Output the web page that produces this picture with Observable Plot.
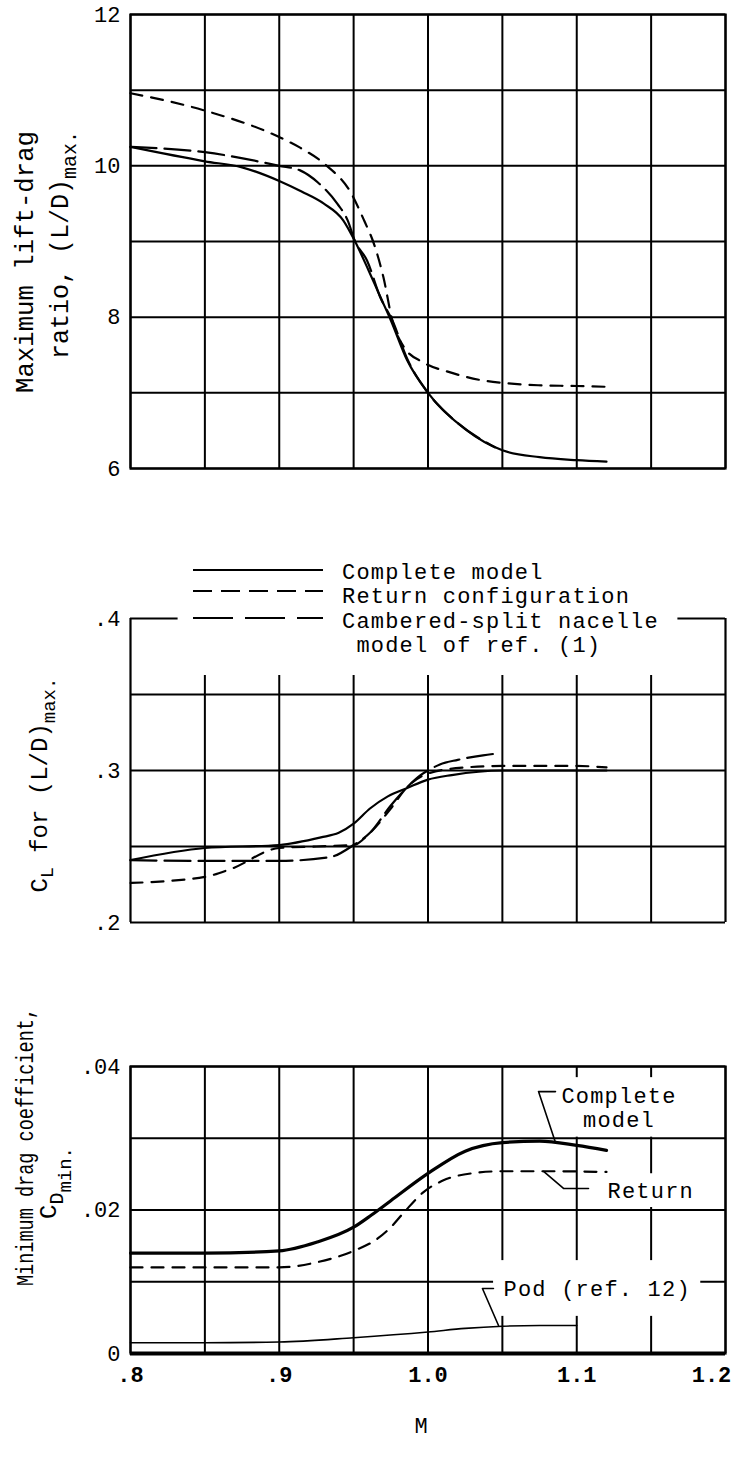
<!DOCTYPE html>
<html><head><meta charset="utf-8">
<script src="https://cdn.jsdelivr.net/npm/d3@7"></script>
<script src="https://cdn.jsdelivr.net/npm/@observablehq/plot@0.6"></script>
<style>
body{margin:0;background:#fff;}
#chart{width:741px;height:1472px;position:relative;overflow:hidden;background:#fff;}
#chart svg{display:block;}
</style></head><body><div id="chart"></div>
<script>
const FONT = "'Liberation Mono','DejaVu Sans Mono',monospace";

// ---------- shared x (Mach number) ----------
const xDomain = [0.8, 1.2];
const xGridTicks = [0.8, 0.85, 0.9, 0.95, 1.0, 1.05, 1.1, 1.15, 1.2];
const xLabelTicks = [0.8, 0.9, 1.0, 1.1, 1.2];
const xLabelText = [".8", ".9", "1.0", "1.1", "1.2"];
const xTitle = "M";

const seriesNames = ["Complete model", "Return configuration", "Cambered-split nacelle", " model of ref. (1)"];

// ---------- panel 1: (L/D)max ----------
const ldDomain = [6, 12];
const ldGridTicks = [6, 7, 8, 9, 10, 11, 12];
const ldLabelTicks = [6, 8, 10, 12];
const ldLabelText = ["6", "8", "10", "12"];
const ldCompleteM = [0.80,0.85,0.875,0.90,0.915,0.93,0.943,0.951,0.96,0.967,0.975,0.986,1.00,1.025,1.05,1.075,1.10,1.12];
const ldCompleteV = [10.25,10.06,9.98,9.80,9.66,9.50,9.28,9.00,8.62,8.31,7.96,7.43,7.00,6.52,6.24,6.15,6.11,6.09];
const ldReturnM = [0.80,0.85,0.90,0.914,0.932,0.948,0.957,0.964,0.970,0.976,0.984,0.997,1.015,1.035,1.051,1.074,1.10,1.12];
const ldReturnV = [10.96,10.73,10.38,10.24,10.00,9.65,9.28,8.95,8.53,7.96,7.60,7.40,7.27,7.17,7.13,7.10,7.09,7.08];
const ldCamberM = [0.80,0.85,0.90,0.914,0.926,0.939,0.946,0.951,0.959,0.968,0.976,0.986,1.00,1.02,1.045];
const ldCamberV = [10.25,10.18,10.00,9.94,9.78,9.50,9.28,9.00,8.75,8.26,7.96,7.45,7.00,6.60,6.28];

// ---------- panel 2: CL for (L/D)max ----------
const clDomain = [0.2, 0.4];
const clGridTicks = [0.25, 0.3, 0.35];
const clLabelTicks = [0.2, 0.3, 0.4];
const clLabelText = [".2", ".3", ".4"];
const clGridTop = 0.3625;
const clFrameLeftEnd = 0.832, clFrameRightStart = 1.168;
const clCompleteM = [0.80,0.85,0.90,0.928,0.94,0.95,0.961,0.973,0.986,1.00,1.016,1.05,1.08,1.12];
const clCompleteV = [0.241,0.249,0.251,0.256,0.259,0.265,0.275,0.283,0.2885,0.294,0.297,0.300,0.300,0.300];
const clReturnM = [0.80,0.85,0.867,0.90,0.925,0.95,0.96,0.975,0.985,1.00,1.025,1.05,1.10,1.12];
const clReturnV = [0.226,0.230,0.235,0.249,0.250,0.251,0.258,0.275,0.288,0.298,0.302,0.303,0.303,0.302];
const clCamberM = [0.80,0.85,0.90,0.934,0.95,0.961,0.975,0.984,0.995,1.00,1.008,1.02,1.037,1.045];
const clCamberV = [0.241,0.2405,0.2405,0.243,0.251,0.259,0.277,0.287,0.297,0.300,0.304,0.307,0.310,0.311];

// ---------- panel 3: CD min ----------
const cdDomain = [0, 0.04];
const cdGridTicks = [0, 0.01, 0.02, 0.03, 0.04];
const cdLabelTicks = [0, 0.02, 0.04];
const cdLabelText = ["0", ".02", ".04"];
const cdCompleteM = [0.80,0.85,0.90,0.925,0.95,0.962,0.975,1.00,1.025,1.05,1.075,1.10,1.12];
const cdCompleteV = [0.0140,0.0140,0.0143,0.0155,0.0176,0.0193,0.0213,0.0251,0.0282,0.0294,0.0296,0.0290,0.0283];
const cdReturnM = [0.80,0.85,0.90,0.925,0.95,0.966,0.975,0.984,0.997,1.01,1.029,1.05,1.08,1.12];
const cdReturnV = [0.0120,0.0120,0.0120,0.0127,0.0143,0.0160,0.0176,0.0197,0.0225,0.0241,0.0251,0.0254,0.0254,0.0253];
const cdPodM = [0.80,0.85,0.90,0.95,1.00,1.025,1.05,1.075,1.10];
const cdPodV = [0.0015,0.0015,0.0016,0.0022,0.0030,0.0035,0.0038,0.0039,0.0039];

// annotation labels and leaders (panel 3)
const cdLabelsM = [1.1284, 1.1207, 1.0508];
const cdLabelsV = [0.0343, 0.0227, 0.00906];
const cdLabelsT = ["Complete\nmodel", "Return", "Pod (ref. 12)"];
const cdLabelsA = ["middle", "start", "start"];
const cdLabelsPadX = [6, 7, 10];   // white knock-out around each label, px
const cdLabelsPadY = [6, 5, 16];
const leaderCompleteM = [1.0857, 1.0743, 1.0857];
const leaderCompleteV = [0.0365, 0.0365, 0.0294];
const leaderReturnM = [1.0777, 1.0911, 1.1079];
const leaderReturnV = [0.02537, 0.0230, 0.0230];
const leaderPodM = [1.0440, 1.0366, 1.0474];
const leaderPodV = [0.00906, 0.00906, 0.0039];

// ---------- helpers ----------
const tbl = (Ms, Vs) => Ms.map((M, i) => ({M, v: Vs[i]}));
const mapOf = (ks, vs) => new Map(ks.map((k, i) => [k, vs[i]]));
const K = "#000";
const GRID = 2;
const RETURN_DASH = "12,9";
const CAMBER_DASH = "26,8";
const W = 741, ML = 130, MR = 16;
const LABEL_FS = 22, LETTER_SP = 1.2, CHAR_W = 0.6 * LABEL_FS + LETTER_SP, LINE_H = 1.08 * LABEL_FS;
const style = {fontFamily: FONT, fontSize: "22px", color: "#000", background: "#fff", overflow: "visible"};

function addRotText(svg, x, y, parts, fontSize, textLength) {
  const t = d3.select(svg).append("text")
    .attr("transform", `translate(${x},${y}) rotate(-90)`)
    .attr("text-anchor", "middle")
    .attr("fill", K)
    .style("font-family", FONT)
    .style("font-size", fontSize + "px");
  if (textLength) t.attr("textLength", textLength).attr("lengthAdjust", "spacingAndGlyphs");
  let cur = 0;
  for (const p of parts) {
    const s = t.append("tspan").text(p.text);
    const sh = p.shift || 0;
    if (sh !== cur) s.attr("dy", (sh - cur) + "px");
    cur = sh;
    if (p.size) s.style("font-size", p.size + "px");
  }
}

const root = document.getElementById("chart");

// ---------- panel 1 ----------
const ldLab = mapOf(ldLabelTicks, ldLabelText);
const p1 = Plot.plot({
  width: W, height: 490, marginLeft: ML, marginRight: MR, marginTop: 14, marginBottom: 22,
  x: {domain: xDomain, axis: null},
  y: {domain: ldDomain, axis: null},
  style,
  marks: [
    Plot.gridX(xGridTicks, {stroke: K, strokeOpacity: 1, strokeWidth: GRID}),
    Plot.gridY(ldGridTicks, {stroke: K, strokeOpacity: 1, strokeWidth: GRID}),
    Plot.frame({stroke: K, strokeWidth: 2.2}),
    Plot.axisY(ldLabelTicks, {tickSize: 0, tickPadding: 10, tickFormat: d => ldLab.get(d), fontSize: 22, label: null}),
    Plot.line(tbl(ldCompleteM, ldCompleteV), {x: "M", y: "v", stroke: K, strokeWidth: 2.2, curve: "monotone-x"}),
    Plot.line(tbl(ldReturnM, ldReturnV), {x: "M", y: "v", stroke: K, strokeWidth: 2.2, strokeDasharray: RETURN_DASH, curve: "monotone-x"}),
    Plot.line(tbl(ldCamberM, ldCamberV), {x: "M", y: "v", stroke: K, strokeWidth: 2.2, strokeDasharray: CAMBER_DASH, curve: "monotone-x"})
  ]
});
root.appendChild(p1);
addRotText(p1, 33, 262, [{text: "Maximum lift-drag"}], 25, 262);
addRotText(p1, 68, 245, [{text: "ratio, (L/D)"}, {text: "max.", shift: 8, size: 20}], 25);

// ---------- panel 2 ----------
const clLab = mapOf(clLabelTicks, clLabelText);
const innerX = xGridTicks.slice(1, -1);
const p2 = Plot.plot({
  width: W, height: 470, marginLeft: ML, marginRight: MR, marginTop: 128, marginBottom: 38,
  x: {domain: xDomain, axis: null},
  y: {domain: clDomain, axis: null},
  style,
  marks: [
    Plot.ruleY(clGridTicks, {stroke: K, strokeWidth: GRID}),
    Plot.ruleY([clDomain[0]], {stroke: K, strokeWidth: 2.2}),
    Plot.ruleX(innerX, {y1: clDomain[0], y2: clGridTop, stroke: K, strokeWidth: GRID}),
    Plot.ruleX(xDomain, {y1: clDomain[0], y2: clDomain[1], stroke: K, strokeWidth: 2.2}),
    Plot.ruleY([clDomain[1]], {x1: xDomain[0], x2: clFrameLeftEnd, stroke: K, strokeWidth: 2.2}),
    Plot.ruleY([clDomain[1]], {x1: clFrameRightStart, x2: xDomain[1], stroke: K, strokeWidth: 2.2}),
    Plot.axisY(clLabelTicks, {tickSize: 0, tickPadding: 10, tickFormat: d => clLab.get(d), fontSize: 22, label: null}),
    Plot.line(tbl(clCompleteM, clCompleteV), {x: "M", y: "v", stroke: K, strokeWidth: 2.2, curve: "monotone-x"}),
    Plot.line(tbl(clReturnM, clReturnV), {x: "M", y: "v", stroke: K, strokeWidth: 2.2, strokeDasharray: RETURN_DASH, curve: "monotone-x"}),
    Plot.line(tbl(clCamberM, clCamberV), {x: "M", y: "v", stroke: K, strokeWidth: 2.2, strokeDasharray: CAMBER_DASH, curve: "monotone-x"})
  ]
});
root.appendChild(p2);
addRotText(p2, 47, 295, [{text: "C"}, {text: "L", shift: 6, size: 18}, {text: " for (L/D)"}, {text: "max.", shift: 8, size: 19}], 24);
// legend
{
  const g = d3.select(p2).append("g").style("font-family", FONT).style("font-size", LABEL_FS + "px")
    .style("letter-spacing", LETTER_SP + "px");
  const lineY = [80, 101, 128];
  const dashes = [null, "19,9", "40,12"];
  lineY.forEach((y, i) => {
    g.append("line").attr("x1", 193).attr("x2", 323).attr("y1", y).attr("y2", y)
      .attr("stroke", K).attr("stroke-width", 2.2).attr("stroke-dasharray", dashes[i]);
  });
  const textY = [81, 105.5, 130, 154.5];
  seriesNames.forEach((s, i) => {
    g.append("text").attr("x", 342).attr("y", textY[i]).attr("dy", "0.35em").attr("fill", K)
      .attr("text-anchor", "start").attr("xml:space", "preserve").style("white-space", "pre").text(s);
  });
}

// ---------- panel 3 ----------
const H3 = 512, MT3 = 106, MB3 = 119;
const pxPerM = (W - ML - MR) / (xDomain[1] - xDomain[0]);
const pxPerCd = (H3 - MT3 - MB3) / (cdDomain[1] - cdDomain[0]);
const cdLab = mapOf(cdLabelTicks, cdLabelText);
const xLab = mapOf(xLabelTicks, xLabelText);
const labels = cdLabelsM.map((M, i) => ({M, v: cdLabelsV[i], t: cdLabelsT[i], a: cdLabelsA[i]}));
// white knock-out boxes derived from each label's anchor, length and line count
const masks = labels.map((d, i) => {
  const lines = d.t.split("\n");
  const wPx = Math.max(...lines.map(s => s.length)) * CHAR_W;
  const hPx = lines.length * LINE_H;
  const left = d.a === "middle" ? -wPx / 2 : 0;
  return {
    x1: d.M + (left - cdLabelsPadX[i]) / pxPerM,
    x2: d.M + (left + wPx + cdLabelsPadX[i]) / pxPerM,
    y1: d.v - (hPx / 2 + cdLabelsPadY[i]) / pxPerCd,
    y2: d.v + (hPx / 2 + cdLabelsPadY[i]) / pxPerCd
  };
});
const labelMarks = labels.map(d => Plot.text([d], {x: "M", y: "v", text: "t", textAnchor: d.a, lineHeight: 1.08, fill: K, fontSize: LABEL_FS}));
const p3 = Plot.plot({
  width: W, height: H3, marginLeft: ML, marginRight: MR, marginTop: MT3, marginBottom: MB3,
  x: {domain: xDomain, axis: null},
  y: {domain: cdDomain, axis: null},
  style,
  marks: [
    Plot.gridX(xGridTicks, {stroke: K, strokeOpacity: 1, strokeWidth: GRID}),
    Plot.gridY(cdGridTicks, {stroke: K, strokeOpacity: 1, strokeWidth: GRID}),
    Plot.frame({stroke: K, strokeWidth: 2.2}),
    Plot.ruleY([0], {stroke: K, strokeWidth: 4}),
    Plot.rect(masks, {x1: "x1", x2: "x2", y1: "y1", y2: "y2", fill: "#fff"}),
    Plot.axisY(cdLabelTicks, {tickSize: 0, tickPadding: 10, tickFormat: d => cdLab.get(d), fontSize: 22, label: null}),
    Plot.axisX(xLabelTicks.slice(0, -1), {anchor: "bottom", tickSize: 0, tickPadding: 13, tickFormat: d => xLab.get(d), fontSize: 22, fontWeight: "bold", label: null}),
    Plot.axisX(xLabelTicks.slice(-1), {anchor: "bottom", tickSize: 0, tickPadding: 13, tickFormat: d => xLab.get(d), fontSize: 22, fontWeight: "bold", label: null, dx: -14}),
    Plot.text([xTitle], {frameAnchor: "bottom", text: d => d, dy: 79, dx: -7, fontSize: 22}),
    Plot.line(tbl(cdPodM, cdPodV), {x: "M", y: "v", stroke: K, strokeWidth: 1.6, curve: "monotone-x"}),
    Plot.line(tbl(cdReturnM, cdReturnV), {x: "M", y: "v", stroke: K, strokeWidth: 2.2, strokeDasharray: RETURN_DASH, curve: "monotone-x"}),
    Plot.line(tbl(cdCompleteM, cdCompleteV), {x: "M", y: "v", stroke: K, strokeWidth: 3.2, curve: "monotone-x"}),
    Plot.line(tbl(leaderCompleteM, leaderCompleteV), {x: "M", y: "v", stroke: K, strokeWidth: 1.6}),
    Plot.line(tbl(leaderReturnM, leaderReturnV), {x: "M", y: "v", stroke: K, strokeWidth: 1.6}),
    Plot.line(tbl(leaderPodM, leaderPodV), {x: "M", y: "v", stroke: K, strokeWidth: 1.6}),
    ...labelMarks
  ]
});
root.appendChild(p3);
{
  const flat = new Set(cdLabelsT.map(s => s.replace(/\n/g, "")));
  d3.select(p3).selectAll("text").filter(function () { return flat.has(this.textContent); })
    .style("letter-spacing", LETTER_SP + "px");
}
addRotText(p3, 33, 187, [{text: "Minimum drag coefficient,"}], 24, 278);
addRotText(p3, 56, 223, [{text: "C"}, {text: "D", shift: 7, size: 20}, {text: "min.", shift: 15, size: 19}], 24);
</script>
</body></html>
